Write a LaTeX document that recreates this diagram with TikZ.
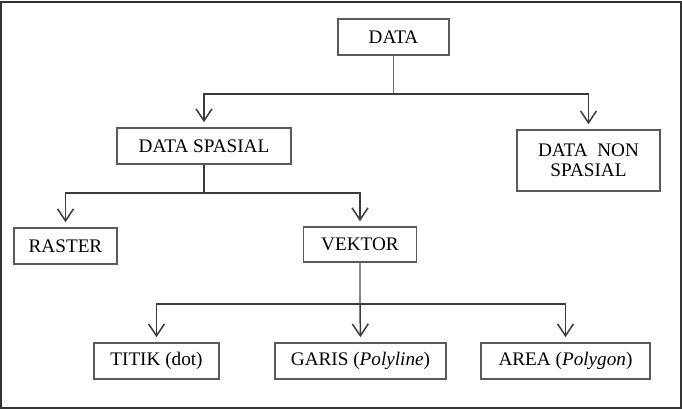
\documentclass[tikz,border=0pt]{standalone}
\usepackage{fontspec}
\setmainfont{Liberation Serif}
\usetikzlibrary{arrows.meta, positioning, calc}
\definecolor{boxline}{HTML}{5A5A5A}
\definecolor{linkline}{HTML}{3C3C3C}
\definecolor{stemline}{HTML}{8A8A8A}
\tikzset{
  tbox/.style={rectangle, draw=boxline, line width=0.8pt, inner sep=0pt,
               minimum width=#1, minimum height=18pt, align=center,
               font=\fontsize{9.6}{10.2}\selectfont},
  tbox/.default=50pt,
  arr/.style={-{Straight Barb[length=6pt, width=8pt]}, line width=0.75pt,
              linkline, shorten >=2.5pt},
  stem/.style={line width=0.75pt, #1},
  stem/.default=linkline,
}

\begin{document}
\begin{tikzpicture}[x=0.5pt, y=-0.5pt]
  \useasboundingbox (0,0) rectangle (682,410);
  \draw[line width=0.9pt, black!80] (1,2) rectangle (681,408);

  \node[tbox=55.5pt] (data) at (393.5,37) {DATA};
  \node[tbox=87pt] (dspasial) at (204,146) {DATA SPASIAL};
  \node[tbox=71.5pt, minimum height=30.5pt] (dnon) at (588.5,160.5) {DATA\ \ NON\\SPASIAL};
  \node[tbox=51.5pt] (raster) at (65.5,246) {RASTER};
  \node[tbox=56.5pt, minimum height=17.5pt] (vektor) at (360,244.5) {VEKTOR};
  \node[tbox=62.5pt] (titik) at (156.5,361) {TITIK (dot)};
  \node[tbox=85.5pt] (garis) at (360.5,361) {GARIS (\textit{Polyline})};
  \node[tbox=84.5pt] (area) at (565.5,361) {AREA (\textit{Polygon})};

  \coordinate (j1) at (393.5,94);
  \coordinate (j2) at (204,193);
  \coordinate (j3) at (360,304);

  \draw[stem=stemline!80!black] (data.south) -- (j1);
  \draw[arr] (j1) -| (dspasial.north);
  \draw[arr] (j1) -| (dnon.north);

  \draw[stem] (dspasial.south) -- (j2);
  \draw[arr] (j2) -| (raster.north);
  \draw[arr] (j2) -| (vektor.north);

  \draw[stem=stemline] (vektor.south) -- (j3);
  \draw[arr] (j3) -| (titik.north);
  \draw[arr] (j3) -- (garis.north);
  \draw[arr] (j3) -| (area.north);
\end{tikzpicture}
\end{document}
